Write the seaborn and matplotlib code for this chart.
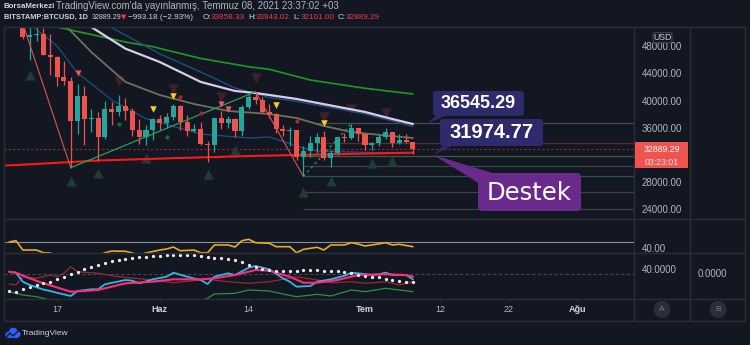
import numpy as np
import pandas as pd
import matplotlib
matplotlib.use("Agg")
import matplotlib.pyplot as plt
import matplotlib.dates as mdates
from matplotlib.patches import Rectangle, FancyBboxPatch, Polygon, Circle
from matplotlib.lines import Line2D
from matplotlib.transforms import IdentityTransform
import seaborn as sns

# ---------------- data ----------------
candle_start = "2021-05-12"
opens = [56700, 49400, 49700, 49900, 46750, 46450, 43550, 42850, 37000, 40700,
         37300, 37500, 34700, 38800, 38350, 39250, 38450, 35700, 34600, 35700,
         37300, 36700, 37600, 39200, 36850, 35520, 35800, 33560, 33400, 37400,
         36700, 37340, 35550, 39020, 40530, 40160, 38350, 38090, 35820, 35480,
         35600, 31620, 32500, 33700, 34650, 31600, 32250, 34700, 34500, 35900,
         35040, 33520, 33800, 34650, 35300, 33700, 34240, 33858.33]
highs = [57950, 51400, 51500, 50700, 49800, 46600, 45800, 43550, 42450, 42200,
         38800, 38300, 39900, 39800, 40800, 40400, 38900, 37300, 36400, 37500,
         37900, 38200, 39500, 39300, 37900, 36500, 36800, 34100, 37500, 38400,
         37700, 37450, 39300, 41100, 41300, 40500, 39500, 38200, 36450, 36100,
         35700, 33300, 34800, 35200, 35500, 32700, 34700, 35200, 36600, 36000,
         35060, 33950, 34950, 35950, 35300, 35050, 35100, 33943.02]
lows = [49150, 46000, 48800, 46700, 43800, 42100, 42300, 30000, 35000, 33500,
        35300, 31100, 34300, 36400, 37800, 37200, 34800, 33600, 33400, 34200,
        35700, 35900, 37200, 35600, 34800, 35300, 33400, 31000, 32400, 35800,
        35900, 34600, 34800, 38750, 39500, 38100, 37400, 35200, 34800, 33350,
        31300, 28800, 31700, 32300, 31300, 30200, 32000, 33900, 34300, 34100,
        32700, 32700, 33350, 34300, 33200, 33550, 33800, 32101.00]
closes = [49400, 49700, 49900, 46750, 46450, 43550, 42850, 37000, 40700, 37300,
          37500, 34700, 38800, 38350, 39250, 38450, 35700, 34600, 35700, 37300,
          36700, 37600, 39200, 36850, 35520, 35800, 33560, 33400, 37400, 36700,
          37340, 35550, 39020, 40530, 40160, 38350, 38090, 35820, 35480, 35600,
          31620, 32500, 33700, 34650, 31600, 32250, 34700, 34500, 35900, 35040,
          33520, 33800, 34650, 35300, 33700, 34240, 33882.47, 32889.29]

# main-pane indicator lines (day offset from candle_start, price)
green_days = [3, 15, 19, 26, 33, 36, 42, 50, 57]
green_vals = [51300, 48650, 47950, 46220, 45000, 44620, 43040, 41815, 40975]
white_days = [9, 10, 15, 20, 26, 31, 34, 36, 40, 45, 50, 54, 57]
white_vals = [51500, 50860, 47660, 45700, 42750, 41420, 41120, 40830, 40240, 39280, 38320, 37280, 36545]
bup_days = [12, 20, 26, 31, 36, 40, 45, 50, 54, 57]
bup_vals = [51300, 46920, 44220, 41860, 40460, 39870, 38980, 38020, 36990, 36180]
olive_days = [6, 10, 15, 20, 25, 30, 36, 40, 44, 48, 53, 57]
olive_vals = [51300, 47170, 42750, 40830, 39500, 38470, 38020, 37430, 36250, 35370, 34850, 34480]
blo_days = [1, 5, 8, 13, 18, 21, 26, 33, 36, 41, 43, 51, 57]
blo_vals = [51300, 48060, 44070, 40090, 37330, 36470, 35070, 34480, 34630, 33000, 32560, 32340, 32340]
red_days = [-3, 0, 11, 22, 33, 45, 57]
red_vals = [30400, 30540, 31160, 31500, 31820, 32080, 32310]

# zigzag pivots
zz_days = [-2, 7, 34, 41, 48]
zz_vals = [57450, 30100, 41300, 28800, 36600]

# horizontal levels (start day, price)
lvl_days = [43, 43, 41, 41, 41, 41, 41]
lvl_vals = [36650, 33700, 31820, 30350, 28900, 26550, 24000]
lvl_cols = ["#474b57", "#5a2c33", "#43574b", "#37493f", "#235654", "#3c414e", "#3c414e"]

# signal markers
tri_up_days = [1, 7, 11, 18, 27, 31, 41, 45, 51, 54]
tri_up_vals = [43760, 28130, 29310, 31530, 29170, 32710, 26510, 28130, 30790, 31090]
tri_dn_days = [14, 22, 29, 34, 44, 48, 53]
tri_dn_vals = [42890, 41710, 40530, 43340, 37580, 38760, 38170]
yel_days = [19, 22, 37, 44]
yel_vals = [38760, 40680, 39350, 36690]
sal_days = [8, 29, 30]
sal_vals = [44120, 39500, 38760]
rdot_days = [23, 26, 40]
rdot_vals = [40530, 38210, 37030]
gdot_days = [14, 21]
gdot_vals = [36500, 34630]

# pane 2 oscillator
osc_days = [-2, -1, 0, 2, 3, 4, 5, 8, 11, 12, 13, 15, 16, 17, 18, 20, 21, 22, 23, 25,
            26, 27, 28, 30, 31, 32, 33, 34, 36, 37, 39, 40, 41, 43, 44, 45, 47, 48, 49, 50,
            51, 53, 54, 55, 57]
osc_vals = [49.5, 51.6, 36.8, 36.8, 32.5, 32.1, 28, 27, 28, 32.5, 35.2, 34.8, 32.1, 29, 32.1,
            36.8, 38.4, 41.6, 35.7, 36.8, 32.5, 32.5, 44.8, 44.8, 41.6, 51.6, 53.8, 48.4, 47.5,
            42.1, 42.1, 32.5, 37.9, 41.1, 36.8, 44.8, 44.8, 48.4, 46.3, 43.2, 44.8, 48.4, 44.8,
            45.9, 42.1]
osc_level = 50

# pane 3 lines
cyan_days = [-2, -1, 0, 1, 3, 4, 5, 7, 8, 10, 11, 12, 15, 16, 17, 19, 21, 22, 24, 26, 27, 28,
             30, 31, 33, 34, 36, 38, 39, 40, 42, 43, 45, 47, 48, 49, 51, 52, 53, 54, 56, 57]
cyan_vals = [37.6, 36.6, 27.6, 24.3, 19.8, 18.3, 16.5, 13.3, 18.3, 20, 20, 25, 29.3, 28.6, 26,
             30, 32.6, 36.6, 32.6, 29.3, 25.3, 32.6, 36, 34.3, 41.6, 43.3, 40, 31, 27.6, 22.6,
             23.3, 27.6, 30, 33.6, 36.6, 36, 34.3, 35, 36.6, 34.3, 34.3, 30]
pink_days = [-2, -1, 1, 3, 4, 7, 9, 11, 15, 19, 22, 26, 28, 31, 34, 36, 39, 41, 43, 46, 49, 53, 56, 57]
pink_vals = [37.6, 36.6, 31, 26, 24, 17.6, 18.3, 19.3, 26, 27.6, 30, 30, 31, 34.3, 39.3, 38.6,
             32.6, 26.6, 26.6, 29.3, 34.3, 35, 34.3, 32.6]
dred_days = [-2, -1, 0, 2, 4, 5, 6, 7, 8, 11, 14, 19, 22, 27, 30, 33, 36, 38, 40, 43, 45, 48, 50, 53, 55, 57]
dred_vals = [25.3, 24.3, 32.6, 31, 34.3, 32.6, 36, 42.6, 37.6, 36, 32.6, 29.3, 26.6, 30, 27.6,
             26, 27.6, 30, 32.6, 29.3, 26.6, 27.6, 26, 27.6, 24.3, 27.6]
grn_days = [-2, 0, 2, 3, 4, 6, 10, 15, 20, 25, 27, 28, 31, 33, 36, 38, 40, 43, 45, 48, 50, 53, 55, 57]
grn_vals = [17.6, 14.3, 12.6, 11, 9, 7, 6, 6, 6, 7, 11, 15.3, 16, 19.3, 18.3, 15.3, 12.6, 15,
            13.3, 19.3, 17.6, 21, 19.3, 17.6]
dot_days = list(range(-2, 58))
dot_vals = [18.3, 17.6, 20, 22.6, 24, 26, 27.6, 30, 32.6, 35, 37.6, 40, 42.6, 44.5, 46.6, 48,
            49.3, 50.2, 51, 52, 52.8, 53.3, 53.8, 54.3, 54.3, 54.3, 54.3, 54, 53.3, 52.6, 51.8,
            51, 50, 49, 47.6, 44.3, 42, 40, 39, 38.3, 38.3, 38.5, 38.6, 39, 39.3, 39, 38.8, 38.6,
            38, 37, 36, 34.3, 33.5, 32.8, 32, 30.5, 29.3, 28.5, 27.6, 27.6]
ind_level = 35

# 32000 is hidden behind the last-price label in the reference, so it is not listed
price_ticks = [24000, 28000, 36000, 40000, 44000, 48000]
time_ticks = ["2021-05-17", "2021-06-01", "2021-06-14", "2021-07-01", "2021-07-12", "2021-07-22", "2021-08-01"]
time_labels = ["17", "Haz", "14", "Tem", "12", "22", "Ağu"]
month_labels = ["Haz", "Tem", "Ağu"]

callout_vals = [36545.29, 31974.77]
callout_dates = ["2021-07-10", "2021-07-11"]
support_text = "Destek"

header1 = ["BorsaMerkezi", "TradingView.com'da yayınlanmış, Temmuz 08, 2021 23:37:02 +03"]
header2 = ["BITSTAMP:BTCUSD, 1D", "32889.29", "▼", "−993.18 (−2.93%)",
           "O:", "33858.33", "H:", "33943.02", "L:", "32101.00", "C:", "32889.29"]

# ---------------- style ----------------
BG = "#131722"
W, H = 750, 345
UP, DN = "#26a69a", "#ef5350"
TXT = "#b2b5be"
LINEC = "#2a2e39"

sns.set_theme(style="dark", rc={"axes.facecolor": BG, "figure.facecolor": BG,
                                "savefig.facecolor": BG, "axes.edgecolor": BG,
                                "text.color": TXT, "xtick.color": TXT, "ytick.color": TXT})
plt.rcParams["font.family"] = ["Liberation Sans", "DejaVu Sans"]

fig = plt.figure(figsize=(W / 100, H / 100), dpi=100)
ID = IdentityTransform()


def rect(x0, y0, x1, y1):
    return [x0 / W, 1 - y1 / H, (x1 - x0) / W, (y1 - y0) / H]


ax = fig.add_axes(rect(4, 27, 634, 219.3))
ax2 = fig.add_axes(rect(4, 219.3, 634, 253.3))
ax3 = fig.add_axes(rect(4, 253.3, 634, 298.7))

base = mdates.date2num(pd.Timestamp(candle_start))


def dn(days):
    return base + np.asarray(days, float)


ref17 = mdates.date2num(pd.Timestamp("2021-05-17"))
xmin, xmax = ref17 - 7.75, ref17 + 84.3


def line(a, days, vals, color, lw, z=2, **kw):
    sns.lineplot(x=dn(days), y=np.asarray(vals, float), ax=a, color=color, linewidth=lw,
                 estimator=None, sort=False, legend=False, zorder=z, **kw)


# ---- main pane ----
ax.hlines(lvl_vals, dn(lvl_days), xmax, colors=lvl_cols, linewidth=0.9, zorder=1)
ax.axhline(closes[-1], color="#8a2e36", linewidth=0.8, linestyle=(0, (2, 2)), zorder=1)

sns.scatterplot(x=dn(tri_up_days), y=tri_up_vals, marker="^", s=55, color="#1d3d35",
                linewidth=0, ax=ax, zorder=1, legend=False)
sns.scatterplot(x=dn(tri_dn_days), y=tri_dn_vals, marker="v", s=55, color="#3f212a",
                linewidth=0, ax=ax, zorder=1, legend=False)

line(ax, green_days, green_vals, "#1e9a22", 1.2)
line(ax, blo_days, blo_vals, "#1f4d86", 0.9)
line(ax, olive_days, olive_vals, "#6e7257", 1.3)
line(ax, bup_days, bup_vals, "#1f4d86", 1.0)
line(ax, white_days, white_vals, "#d8cde8", 1.6)
line(ax, red_days, red_vals, "#ff1616", 1.5)

o, h, l, c = map(lambda v: np.asarray(v, float), (opens, highs, lows, closes))
cx = dn(np.arange(len(opens)))
col = np.where(c >= o, UP, DN)
ax.vlines(cx, l, h, colors=col, linewidth=0.9, zorder=3)
ax.bar(cx, np.maximum(np.abs(c - o), 90), bottom=np.minimum(o, c), width=0.74,
       color=col, linewidth=0, zorder=4)

line(ax, zz_days[0:2], zz_vals[0:2], "#d9534f", 0.8, z=5)
line(ax, zz_days[1:3], zz_vals[1:3], "#1fa35a", 0.9, z=5)
line(ax, zz_days[2:4], zz_vals[2:4], "#d9534f", 0.8, z=5)
line(ax, zz_days[3:5], zz_vals[3:5], "#1fa35a", 0.9, z=5, linestyle=(0, (2, 2.5)))

sns.scatterplot(x=dn(yel_days), y=yel_vals, marker="v", s=22, color="#f7d21c",
                linewidth=0, ax=ax, zorder=6, legend=False)
sns.scatterplot(x=dn(sal_days), y=sal_vals, marker="v", s=20, color="#f0565f",
                linewidth=0, ax=ax, zorder=6, legend=False)
sns.scatterplot(x=dn(rdot_days), y=rdot_vals, marker="o", s=9, color="#b3202c",
                linewidth=0, ax=ax, zorder=6, legend=False)
sns.scatterplot(x=dn(gdot_days), y=gdot_vals, marker="o", s=9, color="#1c6b2a",
                linewidth=0, ax=ax, zorder=6, legend=False)

# ---- pane 2 ----
ax2.axhline(osc_level, color="#8b8e98", linewidth=0.8, zorder=1)
line(ax2, osc_days, osc_vals, "#eaa91f", 1.2)

# ---- pane 3 ----
ax3.axhline(ind_level, color="#434651", linewidth=0.8, linestyle=(0, (3, 2)), zorder=1)
line(ax3, grn_days, grn_vals, "#2f8f3c", 0.9)
line(ax3, dred_days, dred_vals, "#9a2a2f", 0.9)
line(ax3, cyan_days, cyan_vals, "#31b5ea", 1.3)
line(ax3, pink_days, pink_vals, "#ff2b76", 1.5)
sns.scatterplot(x=dn(dot_days), y=dot_vals, marker="o", s=5.5, color="#ececec",
                linewidth=0, ax=ax3, zorder=5, legend=False)

# ---- axes cosmetics ----
for a in (ax, ax2, ax3):
    a.set_facecolor(BG)
    for s in a.spines.values():
        s.set_visible(False)
    a.grid(False)
    a.set_xlim(xmin, xmax)
    a.set_xlabel("")
    a.set_ylabel("")
    a.yaxis.tick_right()
    a.tick_params(axis="y", right=True, left=False, length=0, pad=5.8, labelsize=7, labelcolor=TXT)

ax.tick_params(axis="x", length=0, labelbottom=False, bottom=False)
ax2.tick_params(axis="x", length=0, labelbottom=False, bottom=False)

ax.set_ylim(22480, 50863)
ax.set_yticks(price_ticks)
ax.set_yticklabels([f"{t:.2f}" for t in price_ticks])
ax2.set_ylim(31.6, 85.5)
ax2.set_yticks([40])
ax2.set_yticklabels(["40.00"])
ax3.set_ylim(10.6, 56)
ax3.set_yticks([40])
ax3.set_yticklabels(["40.0000"])

ax3.set_xticks(mdates.date2num(pd.to_datetime(time_ticks)))
ax3.set_xticklabels(time_labels)
ax3.tick_params(axis="x", bottom=True, length=2, width=0.8, color=LINEC, pad=2.5,
                labelsize=6.5, labelcolor=TXT)
for t in ax3.get_xticklabels():
    if t.get_text() in month_labels:
        t.set_fontweight("bold")
        t.set_color("#d1d4dc")


# ---- frame / separators ----
def hline_px(y, x0=4, x1=745, color=LINEC, lw=1.0):
    fig.add_artist(Line2D([x0, x1], [H - y, H - y], transform=ID, color=color, linewidth=lw))


def vline_px(x, y0=27, y1=320.7, color=LINEC, lw=1.0):
    fig.add_artist(Line2D([x, x], [H - y0, H - y1], transform=ID, color=color, linewidth=lw))


for yy in (27, 219.3, 253.3, 298.7, 320.7):
    hline_px(yy)
for xx in (4, 634, 690, 745):
    vline_px(xx)


def to_px(a, xd, yd):
    X, Y = a.transData.transform((xd, yd))
    return X, H - Y


def box_px(x0, y0, x1, y1, color, r=3, ec="none", lw=0.0, z=2):
    p = FancyBboxPatch((x0, H - y1), x1 - x0, y1 - y0, boxstyle=f"round,pad=0,rounding_size={r}",
                       fc=color, ec=ec, linewidth=lw, transform=ID, zorder=z)
    fig.add_artist(p)


def poly_px(pts, color, z=2):
    fig.add_artist(Polygon([(x, H - y) for x, y in pts], closed=True, fc=color, ec="none",
                           transform=ID, zorder=z))


def text_px(x, y, s, **kw):
    kw.setdefault("va", "center")
    kw.setdefault("ha", "left")
    return fig.text(x, H - y, s, transform=ID, **kw)


# callouts
NUMC = "#2f2a6c"
DESC = "#6a2a8c"
t1 = to_px(ax, mdates.date2num(pd.Timestamp(callout_dates[0])), callout_vals[0])
t2 = to_px(ax, mdates.date2num(pd.Timestamp(callout_dates[1])), callout_vals[1])
poly_px([(437, 115), (447, 115), t1], NUMC)
box_px(433, 91, 524, 115.7, NUMC)
text_px(478.5, 103.8, f"{callout_vals[0]:.2f}", ha="center", fontsize=13, fontweight="bold",
        color="white", family="Liberation Sans", zorder=4)
poly_px([(444, 145), (454, 145), t2], NUMC)
box_px(440, 119, 543, 146, NUMC)
text_px(491.5, 133, f"{callout_vals[1]:.2f}", ha="center", fontsize=14.5, fontweight="bold",
        color="white", family="Liberation Sans", zorder=4)
poly_px([t2, (494, 173.5), (478.5, 183)], DESC)
box_px(478, 173, 581, 211, DESC, r=4)
text_px(529.5, 192.5, support_text, ha="center", fontsize=17.5, color="white",
        family="DejaVu Sans", zorder=4)

# price label
lx, ly = to_px(ax, xmax, closes[-1])
poly = Rectangle((635, H - (ly + 19)), 53, 26, fc="#ef5350", ec="none", transform=ID, zorder=2)
fig.add_artist(poly)
text_px(661.5, ly - 0.2, f"{closes[-1]:.2f}", ha="center", va="center_baseline", fontsize=6.3,
        color="white", zorder=4)
text_px(661.5, ly + 12.6, "03:23:01", ha="center", va="center_baseline", fontsize=6.3,
        color="#fde3e3", zorder=4)

# USD box
box_px(653, 32.7, 672, 42.7, BG, r=2, ec="#434651", lw=0.8)
text_px(662.5, 37.8, "USD", ha="center", fontsize=6.3, color="#d1d4dc", zorder=4)

# right scale B label
text_px(697.7, 274.3, "0.0000", fontsize=7, color=TXT)

# A / B buttons
for cxp, lab in ((662, "A"), (718, "B")):
    fig.add_artist(Circle((cxp, H - 309.5), 8.5, fc="#2a2e39", ec="none", transform=ID, zorder=2))
    text_px(cxp, 309.7, lab, ha="center", fontsize=6, color="#787b86", zorder=4)

# header
text_px(3.5, 6, header1[0], fontsize=5.7, fontweight="bold", color="#d1d4dc")
text_px(56, 6, header1[1], fontsize=7.0, color="#b2b5be")
h2_x = [3.5, 91.3, 121.0, 128.3, 202.3, 210.7, 248, 255.7, 293, 301, 338, 346]
for i, (s, xx) in enumerate(zip(header2, h2_x)):
    kw = dict(fontsize=5.9, color="#d1d4dc")
    if i == 0:
        kw.update(fontweight="bold", fontsize=5.3)
    if i == 1:
        kw.update(fontsize=5.0)
    if i == 2:
        kw.update(color="#f23645", family="DejaVu Sans", fontsize=5.0)
    if i in (5, 7, 9, 11):
        kw.update(color="#f23645")
    text_px(xx, 17.3, s, **kw)

# footer logo
for (xc, yc, r) in ((8.5, 334.8, 3.2), (13.2, 331.8, 4.2), (17.6, 334.4, 3.0)):
    fig.add_artist(Circle((xc, H - yc), r, fc="#2962ff", ec="none", transform=ID, zorder=2))
fig.add_artist(Rectangle((8.5, H - 338), 9.2, 4.5, fc="#2962ff", ec="none", transform=ID, zorder=2))
fig.add_artist(Line2D([6.8, 10, 13, 17.5], [H - 336.5, H - 333, H - 336, H - 331.5], transform=ID,
                      color=BG, linewidth=1.0, zorder=3))
text_px(22, 333.5, "TradingView", fontsize=6, color="#d1d4dc")

fig.savefig("out.png", dpi=100, facecolor=BG)
